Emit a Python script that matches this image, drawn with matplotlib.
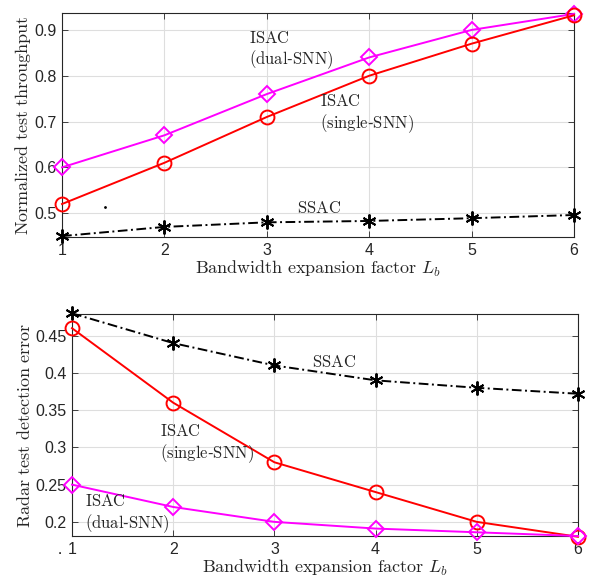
import matplotlib
matplotlib.use("Agg")
import matplotlib.pyplot as plt

plt.rcParams['mathtext.fontset'] = 'cm'
plt.rcParams['font.family'] = ['Liberation Sans', 'DejaVu Sans']

Lb = [1, 2, 3, 4, 5, 6]
xticks = [1, 2, 3, 4, 5, 6]

# Top: Normalized test throughput
thr_dual = [0.60, 0.67, 0.76, 0.84, 0.90, 0.935]
thr_single = [0.52, 0.61, 0.71, 0.80, 0.87, 0.932]
thr_ssac = [0.450, 0.470, 0.480, 0.483, 0.489, 0.496]
top_yticks = [0.5, 0.6, 0.7, 0.8, 0.9]

# Bottom: Radar test detection error
err_ssac = [0.48, 0.44, 0.41, 0.39, 0.38, 0.372]
err_single = [0.46, 0.36, 0.28, 0.24, 0.20, 0.18]
err_dual = [0.25, 0.22, 0.20, 0.191, 0.186, 0.181]
bot_yticks = [0.2, 0.25, 0.3, 0.35, 0.4, 0.45]

fig = plt.figure(figsize=(5.93, 5.82), dpi=100)
ax1 = fig.add_axes([0.1046, 0.5928, 0.8634, 0.3849])
ax2 = fig.add_axes([0.1214, 0.0790, 0.8533, 0.3814])

tick_col = '#262626'
mag = '#FF00FF'
red = '#FF0000'
dashdot = (0, (5, 1.8, 1, 1.8))
ann_fs = 12
lab_fs = 13

txt_dual = r'$\mathrm{ISAC}$' + '\n' + r'$\mathrm{(dual}$-$\mathrm{SNN)}$'
txt_single = r'$\mathrm{ISAC}$' + '\n' + r'$\mathrm{(single}$-$\mathrm{SNN)}$'
txt_ssac = r'$\mathrm{SSAC}$'


def style(ax, yt, ylim):
    ax.set_xlim(1, 6)
    ax.set_ylim(*ylim)
    ax.set_xticks(xticks)
    ax.set_yticks(yt)
    ax.set_yticklabels([('%g' % v) for v in yt])
    ax.grid(True, color='#DEDEDE', linewidth=0.8)
    ax.set_axisbelow(True)
    ax.tick_params(direction='in', top=True, right=True, length=4,
                   labelsize=11.5, colors=tick_col, width=0.6, pad=4)
    for lab in ax.get_xticklabels() + ax.get_yticklabels():
        lab.set_color(tick_col)
    for sp in ax.spines.values():
        sp.set_color('#262626')
        sp.set_linewidth(0.8)


ast = (6, 2, 0)

ax1.plot(Lb, thr_dual, '-', color=mag, lw=1.4, marker='D', ms=8.5,
         mfc='none', mec=mag, mew=1.4, clip_on=False, zorder=3)
ax1.plot(Lb, thr_single, '-', color=red, lw=1.4, marker='o', ms=10,
         mfc='none', mec=red, mew=1.4, clip_on=False, zorder=3)
ax1.plot(Lb, thr_ssac, ls=dashdot, color='black', lw=1.4, marker=ast, ms=10,
         mec='black', mew=1.4, clip_on=False, zorder=3)
style(ax1, top_yticks, (0.448, 0.937))
ax1.set_xlabel(r'$\mathrm{Bandwidth\ expansion\ factor}\ L_b$', fontsize=lab_fs,
               color=tick_col, labelpad=1)
ax1.set_ylabel(r'$\mathrm{Normalized\ test\ throughput}$', fontsize=lab_fs,
               color=tick_col, labelpad=1)
ax1.text(2.83, 0.855, txt_dual, fontsize=ann_fs, color=tick_col,
         va='center', ha='left', linespacing=1.2)
ax1.text(3.52, 0.716, txt_single, fontsize=ann_fs, color=tick_col,
         va='center', ha='left', linespacing=1.2)
ax1.text(3.29, 0.512, txt_ssac, fontsize=ann_fs, color=tick_col,
         va='center', ha='left')
ax1.plot([1.42], [0.514], marker='.', color='black', ms=2)

ax2.plot(Lb, err_ssac, ls=dashdot, color='black', lw=1.4, marker=ast, ms=10,
         mec='black', mew=1.4, clip_on=False, zorder=3)
ax2.plot(Lb, err_single, '-', color=red, lw=1.4, marker='o', ms=10,
         mfc='none', mec=red, mew=1.4, clip_on=False, zorder=3)
ax2.plot(Lb, err_dual, '-', color=mag, lw=1.4, marker='D', ms=8.5,
         mfc='none', mec=mag, mew=1.4, clip_on=False, zorder=3)
style(ax2, bot_yticks, (0.181, 0.479))
ax2.set_xlabel(r'$\mathrm{Bandwidth\ expansion\ factor}\ L_b$', fontsize=lab_fs,
               color=tick_col, labelpad=1)
ax2.set_ylabel(r'$\mathrm{Radar\ test\ detection\ error}$', fontsize=lab_fs,
               color=tick_col, labelpad=1)
ax2.text(3.37, 0.414, txt_ssac, fontsize=ann_fs, color=tick_col,
         va='center', ha='left')
ax2.text(1.87, 0.304, txt_single, fontsize=ann_fs, color=tick_col,
         va='center', ha='left', linespacing=1.2)
ax2.text(1.13, 0.210, txt_dual, fontsize=ann_fs, color=tick_col,
         va='center', ha='left', linespacing=1.2)
fig.text(60 / 593, 1 - 550 / 582, '.', fontsize=11, color='black',
         ha='center', va='center')

fig.savefig('out.png', dpi=100)
